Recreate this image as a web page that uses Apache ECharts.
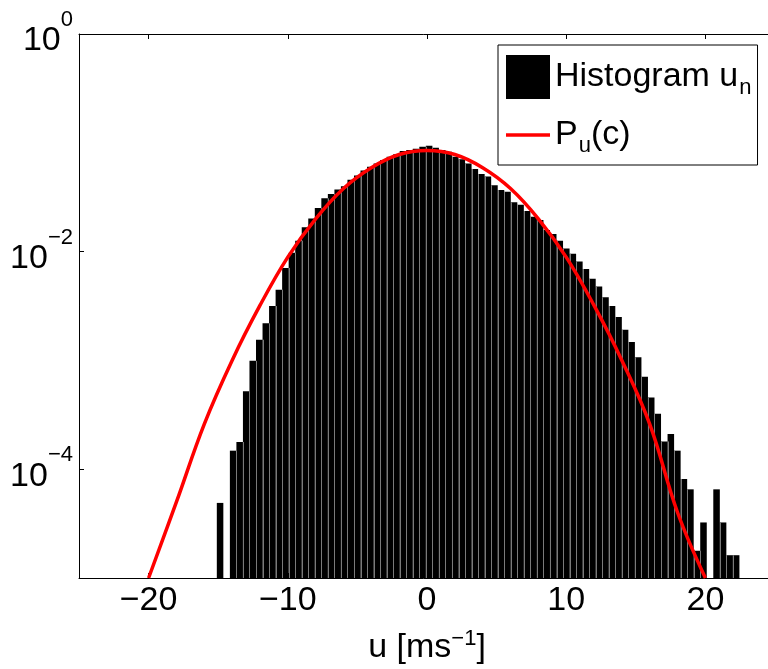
<!DOCTYPE html>
<html>
<head>
<meta charset="utf-8">
<script src="https://cdn.jsdelivr.net/npm/echarts@6/dist/echarts.min.js"></script>
<style>
  html, body { margin: 0; padding: 0; background: #fff; }
  #chart { width: 768px; height: 669px; }
</style>
</head>
<body>
<div id="chart"></div>
<script>
// histogram of u_n: 80 equal bins, first bin starts at -15.1
var binStart = -15.1;
var binWidth = 0.4693;
var histValues = [
  4.9e-5, 0, 1.48e-4, 1.78e-4, 5.2e-4, 9.9e-4, 1.55e-3, 2.19e-3, 3.16e-3, 4.47e-3,
  7.08e-3, 9.77e-3, 0.0126, 0.0167, 0.0202, 0.0251, 0.0309, 0.0339, 0.0372, 0.0398,
  0.0457, 0.0501, 0.0555, 0.0603, 0.0646, 0.0695, 0.0745, 0.0783, 0.0841, 0.0859,
  0.0883, 0.0920, 0.0940, 0.0902, 0.0859, 0.0828, 0.0745, 0.0705, 0.0646, 0.0575,
  0.0516, 0.0490, 0.0407, 0.0368, 0.0355, 0.0284, 0.0269, 0.0236, 0.0209, 0.0195,
  0.0158, 0.0145, 0.0126, 0.0107, 9.55e-3, 8.13e-3, 6.92e-3, 5.62e-3, 4.79e-3, 3.80e-3,
  3.16e-3, 2.51e-3, 1.91e-3, 1.48e-3, 1.07e-3, 7.08e-4, 4.57e-4, 3.24e-4, 1.80e-4, 2.11e-4,
  1.48e-4, 8.13e-5, 6.53e-5, 1.78e-5, 3.24e-5, 0, 6.53e-5, 3.24e-5, 1.62e-5, 1.62e-5
];

// P_u(c)
var curveU = [-20, -18, -16, -14, -12, -10, -8, -6, -4, -2, 0, 2, 4, 6, 8, 10, 12, 14, 16, 18, 20];
var curveP = [1.0e-5, 5.0e-5, 2.6e-4, 1.0e-3, 3.2e-3, 8.9e-3, 0.020, 0.038, 0.059, 0.078, 0.085,
  0.078, 0.059, 0.038, 0.020, 8.9e-3, 3.2e-3, 1.0e-3, 2.6e-4, 4.0e-5, 1.0e-5];

var xTicks = [-20, -10, 0, 10, 20];
var yTicks = [1e-4, 1e-2, 1];
var yMin = 1e-5, yMax = 1;

var fontName = 'Liberation Sans, Arial, Helvetica, sans-serif';

var histData = histValues.map(function (v, i) {
  var left = binStart + i * binWidth;
  return [left, left + binWidth, v, i > 0 ? histValues[i - 1] : 0];
});
var curveData = curveU.map(function (u, i) { return [u, curveP[i]]; });

function minusFmt(v) {
  return v < 0 ? '\u2212' + Math.abs(v) : String(v);
}

var chart = echarts.init(document.getElementById('chart'));

var option = {
  animation: false,
  backgroundColor: '#fff',
  textStyle: { fontFamily: fontName, color: '#000' },
  grid: { left: 79, top: 34, width: 696, height: 544, containLabel: false, outerBoundsMode: 'none' },
  legend: {
    left: 498, top: 45,
    orient: 'vertical',
    padding: [10, 6, 8, 8],
    itemWidth: 44, itemHeight: 44, itemGap: 14,
    symbolKeepAspect: true,
    backgroundColor: '#fff',
    borderColor: '#000', borderWidth: 1,
    selectedMode: false,
    data: [
      { name: 'hist', icon: 'rect' },
      { name: 'pu', icon: 'path://M0,0H44V3.5H0Z', itemStyle: { color: '#ff0000' } }
    ],
    formatter: function (name) {
      return name === 'hist' ? 'Histogram u{sub|n}' : 'P{sub|u}(c)';
    },
    textStyle: {
      fontFamily: fontName, fontSize: 34, color: '#000', lineHeight: 44,
      rich: { sub: { fontFamily: fontName, fontSize: 22, verticalAlign: 'bottom', lineHeight: 44, padding: [0, 0, 0, 1] } }
    }
  },
  xAxis: [{
    type: 'value', min: -25, max: 25,
    name: 'u [ms{sup|\u22121}]',
    nameLocation: 'middle', nameGap: 50,
    nameTextStyle: {
      fontFamily: fontName, fontSize: 34, color: '#000', lineHeight: 40,
      rich: { sup: { fontFamily: fontName, fontSize: 22, verticalAlign: 'top', lineHeight: 40 } }
    },
    axisLine: { onZero: false, lineStyle: { color: '#000', width: 1 } },
    axisTick: { inside: true, length: 5, customValues: xTicks, lineStyle: { color: '#000' } },
    axisLabel: { customValues: xTicks, fontSize: 34, color: '#000', margin: 6, formatter: minusFmt },
    splitLine: { show: false }
  }, {
    type: 'value', min: -25, max: 25, position: 'top',
    axisLine: { onZero: false, lineStyle: { color: '#000', width: 1 } },
    axisTick: { inside: true, length: 5, customValues: xTicks, lineStyle: { color: '#000' } },
    axisLabel: { show: false },
    splitLine: { show: false }
  }],
  yAxis: {
    type: 'log', logBase: 10, min: yMin, max: yMax,
    position: 'left',
    axisLine: { onZero: false, lineStyle: { color: '#000', width: 1 } },
    axisTick: { inside: true, length: 5, customValues: yTicks, lineStyle: { color: '#000' } },
    axisLabel: {
      customValues: yTicks, margin: 6, color: '#000',
      formatter: function (v) {
        var e = Math.round(Math.log(v) / Math.LN10);
        return '{b|10}{s|' + (e < 0 ? '\u2212' : '') + Math.abs(e) + '}';
      },
      rich: {
        b: { fontFamily: fontName, fontSize: 34, lineHeight: 50, padding: [14, 0, 0, 0] },
        s: { fontFamily: fontName, fontSize: 22, verticalAlign: 'top', lineHeight: 50 }
      }
    },
    splitLine: { show: false },
    minorTick: { show: false }
  },
  series: [{
    name: 'hist',
    type: 'custom',
    xAxisIndex: 0,
    clip: true,
    itemStyle: { color: '#000' },
    encode: { x: [0, 1], y: 2 },
    data: histData,
    renderItem: function (params, api) {
      var v = api.value(2);
      if (!(v > 0)) return null;
      var topLeft = api.coord([api.value(0), v]);
      var botRight = api.coord([api.value(1), yMin]);
      var children = [{
        type: 'rect',
        shape: { x: topLeft[0], y: topLeft[1], width: botRight[0] - topLeft[0], height: botRight[1] - topLeft[1] },
        style: { fill: '#000' }
      }];
      var prev = api.value(3);
      if (prev > 0) {
        // grey edge between two neighbouring bars
        var lower = api.coord([api.value(0), Math.min(v, prev)]);
        var ex = Math.round(topLeft[0]) + 0.5;
        children.push({
          type: 'line',
          shape: { x1: ex, y1: lower[1], x2: ex, y2: botRight[1] },
          style: { stroke: '#7a7a7a', lineWidth: 1 }
        });
      }
      return { type: 'group', children: children };
    }
  }, {
    name: 'pu',
    type: 'line',
    xAxisIndex: 0,
    data: curveData,
    smooth: 0.4,
    symbol: 'none',
    clip: true,
    lineStyle: { color: '#ff0000', width: 3.5 },
    itemStyle: { color: '#ff0000' },
    z: 3
  }]
};

chart.setOption(option);
</script>
</body>
</html>
